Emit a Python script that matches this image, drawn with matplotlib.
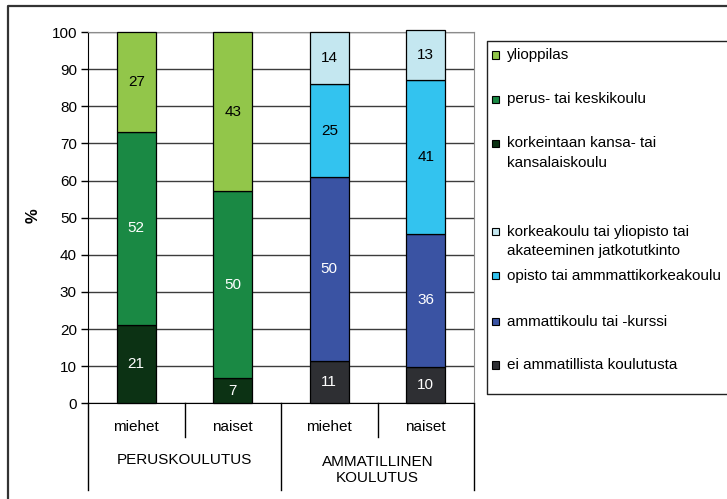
import matplotlib
matplotlib.use('Agg')
from matplotlib import pyplot as plt
from matplotlib.lines import Line2D
from matplotlib.patches import Rectangle

# bar categories
groups = ['PERUSKOULUTUS', 'AMMATILLINEN\nKOULUTUS']
categories = ['miehet', 'naiset', 'miehet', 'naiset']
perus_x = [0, 1]
amm_x = [2, 3]

# peruskoulutus series (bottom -> top)
korkeintaan = [21.2, 6.7]
perus_keski = [51.8, 50.4]
ylioppilas = [27.0, 42.9]

# ammatillinen koulutus series (bottom -> top)
ei_amm = [11.3, 9.7]
ammattikoulu = [49.6, 36.0]
opisto = [25.1, 41.4]
korkeakoulu = [14.0, 13.4]

names = ['ylioppilas',
         'perus- tai keskikoulu',
         'korkeintaan kansa- tai\nkansalaiskoulu',
         'korkeakoulu tai yliopisto tai\nakateeminen jatkotutkinto',
         'opisto tai ammmattikorkeakoulu',
         'ammattikoulu tai -kurssi',
         'ei ammatillista koulutusta']
colors = ['#92c64a', '#1a8944', '#0c3214', '#c4e7f0', '#33c3ef', '#3a53a3', '#2e2f33']
label_colors = ['black', 'white', 'white', 'black', 'black', 'white', 'white']

W, H = 727, 499
plt.rcParams['font.family'] = ['Liberation Sans', 'DejaVu Sans']
plt.rcParams['font.size'] = 11

fig = plt.figure(figsize=(W / 100, H / 100), dpi=100)
ax = fig.add_axes([88 / W, 1 - 403.3 / H, (474 - 88) / W, (403.3 - 32) / H])

stacks = [
    (perus_x, [(korkeintaan, 2), (perus_keski, 1), (ylioppilas, 0)]),
    (amm_x, [(ei_amm, 6), (ammattikoulu, 5), (opisto, 4), (korkeakoulu, 3)]),
]
for xs, series in stacks:
    bottom = [0.0] * len(xs)
    for vals, k in series:
        ax.bar(xs, vals, bottom=bottom, width=0.4, color=colors[k],
               edgecolor='black', linewidth=0.9, zorder=3, clip_on=False)
        for x, b, v in zip(xs, bottom, vals):
            ax.text(x, b + v / 2, f'{round(v)}', ha='center', va='center',
                    color=label_colors[k], zorder=4)
        bottom = [b + v for b, v in zip(bottom, vals)]

ax.set_xlim(-0.5, 3.5)
ax.set_ylim(0, 100)
ax.set_yticks(range(0, 101, 10))
ax.set_xticks([])
ax.set_axisbelow(True)
ax.yaxis.grid(True, color='#3c3c3c', linewidth=1)
ax.tick_params(axis='y', length=5, width=1, pad=3, colors='black')
for s in ['top', 'right']:
    ax.spines[s].set_color('#8c8c8c')
for s in ['left', 'bottom']:
    ax.spines[s].set_color('black')

# category axis with separators
trans = ax.get_xaxis_transform()
for x in [-0.5, 1.5, 3.5]:
    ax.plot([x, x], [0, -0.233], transform=trans, clip_on=False, color='black', lw=1)
for x in [0.5, 2.5]:
    ax.plot([x, x], [0, -0.09], transform=trans, clip_on=False, color='black', lw=1)
for i, c in enumerate(categories):
    ax.text(i, -0.063, c, transform=trans, ha='center', va='center')
ax.text(0.5, -0.152, groups[0], transform=trans, ha='center', va='center')
ax.text(2.5, -0.18, groups[1], transform=trans, ha='center', va='center',
        linespacing=1.2)

fig.text(33.5 / W, 1 - 216 / H, '%', rotation=90, fontweight='bold',
         ha='center', va='center', fontsize=12)

# outer frame (left and top edges visible)
fig.add_artist(Line2D([8 / W, 8 / W, 1], [0, 1 - 6 / H, 1 - 6 / H],
                      transform=fig.transFigure, color='#333333', lw=1.6))

# legend box
lx0, ly0, ly1 = 487.3, 40.7, 394.3
fig.add_artist(Line2D([1, lx0 / W, lx0 / W, 1],
                      [1 - ly0 / H, 1 - ly0 / H, 1 - ly1 / H, 1 - ly1 / H],
                      transform=fig.transFigure, color='#222222', lw=1))
legend_y = [55, 99.3, 143.3, 231.7, 275.7, 321.7, 365]
sq = 7.3
for name, col, y in zip(names, colors, legend_y):
    fig.add_artist(Rectangle(((495.7 - sq / 2) / W, 1 - (y + sq / 2) / H),
                             sq / W, sq / H, transform=fig.transFigure,
                             facecolor=col, edgecolor='black', lw=0.8))
    for j, line in enumerate(name.split('\n')):
        fig.text(506.7 / W, 1 - (y + j * 19.5) / H, line, ha='left', va='center')

fig.savefig('out.png', dpi=100)
